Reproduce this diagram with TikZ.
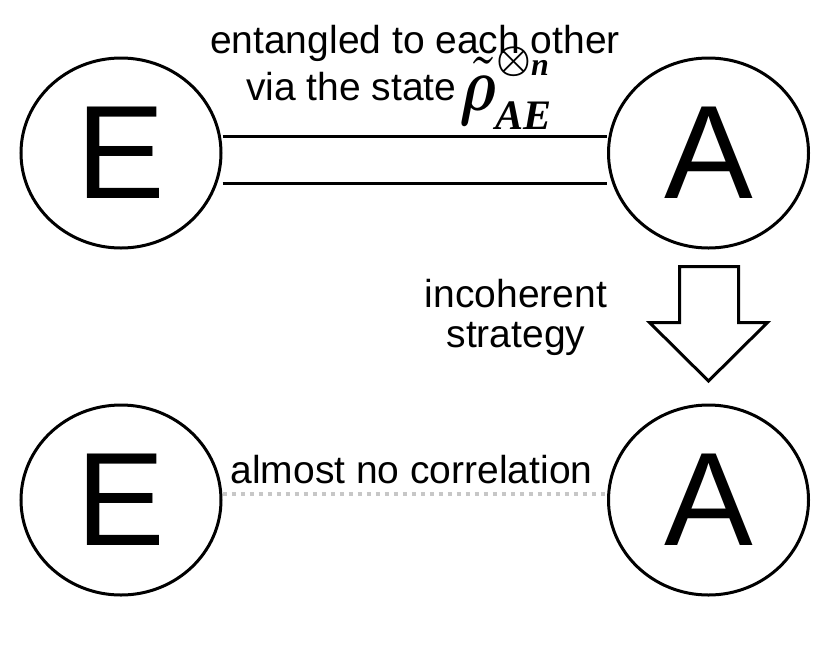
\documentclass[tikz,border=0pt]{standalone}
\usepackage{fontspec}
\setmainfont{Liberation Sans}
\newfontfamily\timesbi{Liberation Serif}
\usepackage{amsmath,bm,graphicx}
\usetikzlibrary{shapes.geometric,positioning}
\tikzset{
  party/.style={draw,ellipse,line width=3pt,minimum width=200pt,minimum height=190pt,inner sep=0pt,font=\fontsize{133}{133}\selectfont},
  lbl/.style={inner sep=0pt,font=\fontsize{39}{40}\selectfont},
  sym/.style={inner sep=0pt,font={\timesbi\bfseries\itshape\fontsize{#1}{#1}\selectfont}},
  link/.style={line width=3pt},
  weak/.style={line width=3.5pt,color=black!22,dash pattern=on 4.5pt off 4.5pt}
}
\begin{document}
\begin{tikzpicture}[x=1pt,y=-1pt]
  \useasboundingbox (0,0) rectangle (830,657);
  % the two parties, before and after
  \node[party] (eTop) at (121,153) {E};
  \node[party] (aTop) at (708.5,153) {A};
  \node[party] (eBot) at (121,500) {E};
  \node[party] (aBot) at (708.5,500) {A};
  \draw[link] ([yshift=16.3pt]eTop.east) -- ([yshift=16.3pt]aTop.west);
  \draw[link] ([yshift=-30.3pt]eTop.east) -- ([yshift=-30.3pt]aTop.west);
  \draw[weak] ([yshift=6pt]eBot.east) -- ([yshift=6pt]aBot.west);
  % labels
  \node[lbl,anchor=base] (tie) at (415,53) {entangled to each other};
  \node[lbl,anchor=base west] (via) at (246,100) {via the state};
  \node[inner sep=0pt,anchor=base west] (rho) at (459,110) {\scalebox{6}[7.7]{$\tilde{\bm\rho}$}};
  \node[inner sep=0pt] (tens) at (514,62) {\scalebox{3.9}{$\bm\otimes$}};
  \node[sym=32,anchor=base west] (pow) at (531,75) {n};
  \node[sym=42,anchor=base west] (sub) at (495,129) {AE};
  \node[lbl,align=center,anchor=base] (how) at (516,347) {incoherent\\strategy};
  \node[lbl,anchor=base] (corr) at (411.5,483) {almost no correlation};
  % block arrow
  \draw[link] (679.5,266.5) -- (738.5,266.5) -- (738.5,322.5) -- (767.5,322.5) -- (708.5,381) -- (649.5,322.5) -- (679.5,322.5) -- cycle;
\end{tikzpicture}
\end{document}
